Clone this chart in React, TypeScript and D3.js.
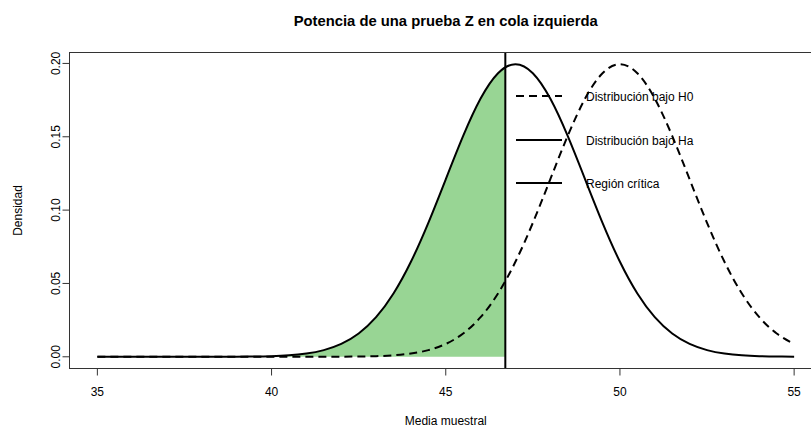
import React from "react";
import * as d3 from "d3";

const xs: number[] = [
  35, 35.5, 36, 36.5, 37, 37.5, 38, 38.5, 39, 39.5, 40, 40.5, 41, 41.5, 42, 42.5, 43, 43.5, 44, 44.5,
  45, 45.5, 46, 46.5, 47, 47.5, 48, 48.5, 49, 49.5, 50, 50.5, 51, 51.5, 52, 52.5, 53, 53.5, 54, 54.5, 55,
];
const densityHa: number[] = [
  0, 0, 0, 0, 0, 0, 0.00001, 0.00002, 0.00007, 0.00018, 0.00044, 0.00101, 0.00222, 0.00455, 0.00876,
  0.01587, 0.027, 0.04314, 0.06476, 0.09132, 0.12099, 0.15057, 0.17603, 0.19333, 0.19947, 0.19333,
  0.17603, 0.15057, 0.12099, 0.09132, 0.06476, 0.04314, 0.027, 0.01587, 0.00876, 0.00455, 0.00222,
  0.00101, 0.00044, 0.00018, 0.00007,
];
const densityH0: number[] = [
  0, 0, 0, 0, 0, 0, 0, 0, 0, 0, 0, 0, 0.00001, 0.00002, 0.00007, 0.00018, 0.00044, 0.00101, 0.00222,
  0.00455, 0.00876, 0.01587, 0.027, 0.04314, 0.06476, 0.09132, 0.12099, 0.15057, 0.17603, 0.19333,
  0.19947, 0.19333, 0.17603, 0.15057, 0.12099, 0.09132, 0.06476, 0.04314, 0.027, 0.01587, 0.00876,
];
const criticalValue = 46.71;
const criticalDensityHa = 0.19738;

const xTicks: number[] = [35, 40, 45, 50, 55];
const yTicks: number[] = [0, 0.05, 0.1, 0.15, 0.2];
const yTickLabels: string[] = ["0.00", "0.05", "0.10", "0.15", "0.20"];
const legendLabels: string[] = ["Distribución bajo H0", "Distribución bajo Ha", "Región crítica"];
const legendDash: string[] = ["8,5", "none", "none"];

const W = 811;
const H = 427;
const left = 69.5;
const right = 822;
const top = 52.5;
const bottom = 368.5;
const font = "'Liberation Sans', Arial, Helvetica, sans-serif";

export default function App() {
  const x = d3.scaleLinear().domain([34.2, 55.8]).range([left, right]);
  const y = d3.scaleLinear().domain([-0.00798, 0.20745]).range([bottom, top]);

  const line = d3
    .line<[number, number]>()
    .x((d) => x(d[0]))
    .y((d) => y(d[1]))
    .curve(d3.curveNatural);

  const haPts: [number, number][] = xs.map((v, i) => [v, densityHa[i]]);
  const h0Pts: [number, number][] = xs.map((v, i) => [v, densityH0[i]]);

  const shadePts: [number, number][] = haPts.filter((p) => p[0] <= criticalValue);
  shadePts.push([criticalValue, criticalDensityHa]);
  const area = d3
    .area<[number, number]>()
    .x((d) => x(d[0]))
    .y0(() => y(0))
    .y1((d) => y(d[1]))
    .curve(d3.curveNatural);

  const legendY = [96, 140, 183];

  return (
    <svg width={W} height={H} style={{ display: "block", position: "absolute", left: 0, top: 0 }}>
      <rect width={W} height={H} fill="#fff" />
      <text x={(left + right) / 2} y={26} textAnchor="middle" fontFamily={font} fontWeight="bold" fontSize={14.8}>
        Potencia de una prueba Z en cola izquierda
      </text>
      <path d={area(shadePts) || ""} fill="#98d594" stroke="none" />
      <path d={line(h0Pts) || ""} fill="none" stroke="#000" strokeWidth={2} strokeDasharray="8,5" />
      <path d={line(haPts) || ""} fill="none" stroke="#000" strokeWidth={2} />
      <line x1={x(criticalValue)} x2={x(criticalValue)} y1={top} y2={bottom} stroke="#000" strokeWidth={2} />
      <rect x={left} y={top} width={right - left} height={bottom - top} fill="none" stroke="#333" strokeWidth={1} />
      {/* x axis */}
      <line x1={x(35)} x2={x(55)} y1={bottom} y2={bottom} stroke="#333" />
      {xTicks.map((t) => (
        <g key={t}>
          <line x1={x(t)} x2={x(t)} y1={bottom} y2={bottom + 7} stroke="#333" />
          <text x={x(t)} y={396} textAnchor="middle" fontFamily={font} fontSize={12}>
            {t}
          </text>
        </g>
      ))}
      {/* y axis */}
      {yTicks.map((t, i) => (
        <g key={t}>
          <line x1={left} x2={left - 7} y1={y(t)} y2={y(t)} stroke="#333" />
          <text
            transform={`translate(${59.5},${y(t)}) rotate(-90)`}
            textAnchor="middle"
            fontFamily={font}
            fontSize={12}
          >
            {yTickLabels[i]}
          </text>
        </g>
      ))}
      <text x={(left + right) / 2} y={425} textAnchor="middle" fontFamily={font} fontSize={12}>
        Media muestral
      </text>
      <text transform={`translate(22,${(top + bottom) / 2}) rotate(-90)`} textAnchor="middle" fontFamily={font} fontSize={12}>
        Densidad
      </text>
      {/* legend */}
      {legendLabels.map((l, i) => (
        <g key={l}>
          <line
            x1={516}
            x2={562}
            y1={legendY[i]}
            y2={legendY[i]}
            stroke="#000"
            strokeWidth={2}
            strokeDasharray={legendDash[i]}
          />
          <text x={586} y={legendY[i] + 4.5} fontFamily={font} fontSize={12}>
            {l}
          </text>
        </g>
      ))}
    </svg>
  );
}
